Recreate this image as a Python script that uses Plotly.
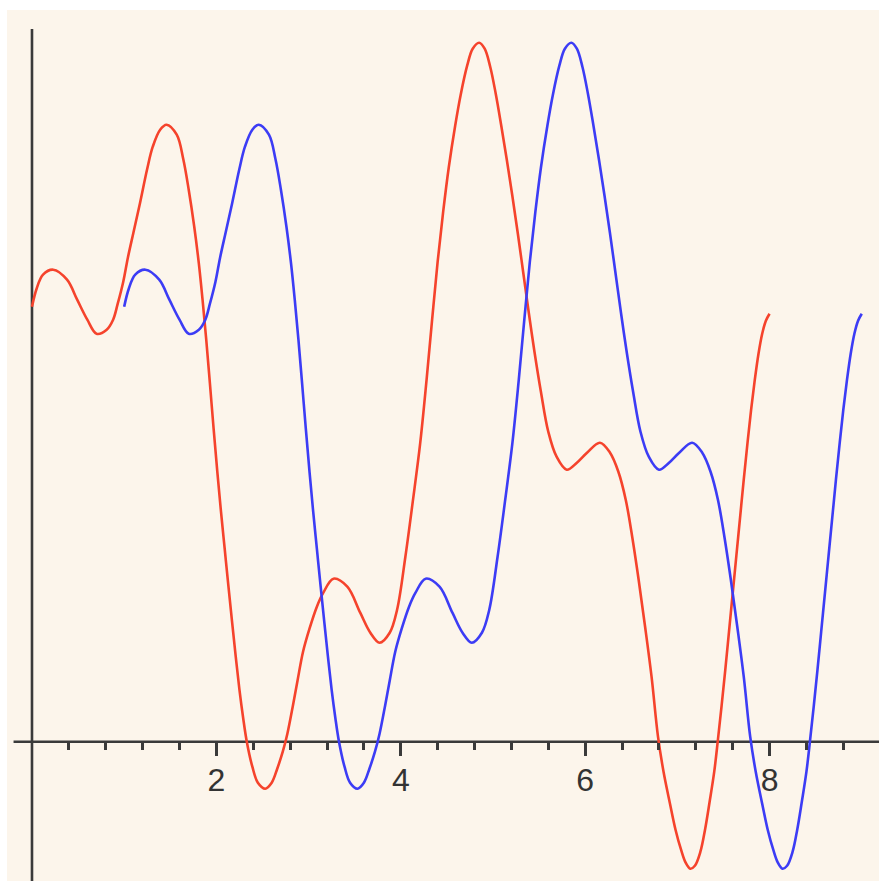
import plotly.graph_objects as go

# ---- data ----
red_x = [0.00, 0.05, 0.12, 0.23, 0.38, 0.49, 0.60, 0.70, 0.81, 0.88, 0.93, 0.99, 1.04, 1.10, 1.17,
         1.25, 1.31, 1.39, 1.46, 1.57, 1.64, 1.70, 1.76, 1.81, 1.85, 1.89, 1.93, 1.97, 2.01, 2.05,
         2.09, 2.13, 2.17, 2.21, 2.25, 2.29, 2.33, 2.39, 2.45, 2.53, 2.60, 2.66, 2.72, 2.77, 2.83,
         2.88, 2.94, 3.01, 3.09, 3.16, 3.27, 3.42, 3.56, 3.67, 3.77, 3.88, 3.96, 4.05, 4.13, 4.21,
         4.28, 4.34, 4.40, 4.46, 4.52, 4.59, 4.65, 4.72, 4.78, 4.85, 4.91, 4.97, 5.03, 5.09, 5.15,
         5.21, 5.27, 5.33, 5.39, 5.45, 5.52, 5.60, 5.69, 5.80, 5.91, 6.02, 6.16, 6.27, 6.36, 6.44, 6.51,
         6.58, 6.65, 6.72, 6.79, 6.85, 6.92, 6.98, 7.04, 7.09, 7.14, 7.19, 7.25, 7.30, 7.35, 7.40,
         7.44, 7.48, 7.52, 7.56, 7.60, 7.64, 7.68, 7.72, 7.76, 7.80, 7.84, 7.88, 7.92, 7.96, 8.00]
red_y = [4.35, 4.53, 4.67, 4.72, 4.62, 4.42, 4.22, 4.08, 4.12, 4.22, 4.38, 4.60, 4.84, 5.09, 5.38,
         5.73, 5.95, 6.12, 6.17, 6.07, 5.83, 5.52, 5.15, 4.78, 4.42, 4.02, 3.58, 3.13, 2.70, 2.30,
         1.93, 1.56, 1.20, 0.85, 0.52, 0.24, 0.00, -0.25, -0.41, -0.47, -0.41, -0.27, -0.10, 0.08, 0.36,
         0.61, 0.90, 1.13, 1.35, 1.49, 1.63, 1.55, 1.29, 1.09, 0.99, 1.09, 1.32, 1.85, 2.40, 2.98,
         3.62, 4.22, 4.80, 5.30, 5.74, 6.16, 6.47, 6.76, 6.93, 6.99, 6.93, 6.75, 6.48, 6.16, 5.82,
         5.46, 5.08, 4.68, 4.28, 3.90, 3.50, 3.10, 2.85, 2.72, 2.79, 2.89, 2.99, 2.89, 2.70, 2.42, 2.05,
         1.62, 1.15, 0.65, 0.05, -0.30, -0.62, -0.88, -1.08, -1.21, -1.27, -1.24, -1.10, -0.88, -0.60, -0.30,
         0.02, 0.36, 0.72, 1.10, 1.48, 1.86, 2.24, 2.62, 2.98, 3.32, 3.62, 3.88, 4.08, 4.21, 4.28]

blue_x = [1.00, 1.05, 1.12, 1.23, 1.38, 1.49, 1.60, 1.70, 1.81, 1.88, 1.93, 1.99, 2.04, 2.10, 2.17,
          2.25, 2.31, 2.39, 2.46, 2.57, 2.64, 2.70, 2.76, 2.81, 2.85, 2.89, 2.93, 2.97, 3.01, 3.05,
          3.09, 3.13, 3.17, 3.21, 3.25, 3.29, 3.33, 3.39, 3.45, 3.53, 3.60, 3.66, 3.72, 3.77, 3.83,
          3.88, 3.94, 4.01, 4.09, 4.16, 4.27, 4.42, 4.56, 4.67, 4.77, 4.88, 4.96, 5.05, 5.13, 5.21,
          5.28, 5.34, 5.40, 5.46, 5.52, 5.59, 5.65, 5.72, 5.78, 5.85, 5.91, 5.97, 6.03, 6.09, 6.15,
          6.21, 6.27, 6.33, 6.39, 6.45, 6.52, 6.60, 6.69, 6.80, 6.91, 7.02, 7.16, 7.27, 7.36, 7.44, 7.51,
          7.58, 7.65, 7.72, 7.79, 7.85, 7.92, 7.98, 8.04, 8.09, 8.14, 8.19, 8.25, 8.30, 8.35, 8.40,
          8.44, 8.48, 8.52, 8.56, 8.60, 8.64, 8.68, 8.72, 8.76, 8.80, 8.84, 8.88, 8.92, 8.96, 9.00]
blue_y = [4.35, 4.53, 4.67, 4.72, 4.62, 4.42, 4.22, 4.08, 4.12, 4.22, 4.38, 4.60, 4.84, 5.09, 5.38,
          5.73, 5.95, 6.12, 6.17, 6.07, 5.83, 5.52, 5.15, 4.78, 4.42, 4.02, 3.58, 3.13, 2.70, 2.30,
          1.93, 1.56, 1.20, 0.85, 0.52, 0.24, 0.00, -0.25, -0.41, -0.47, -0.41, -0.27, -0.10, 0.08, 0.36,
          0.61, 0.90, 1.13, 1.35, 1.49, 1.63, 1.55, 1.29, 1.09, 0.99, 1.09, 1.32, 1.85, 2.40, 2.98,
          3.62, 4.22, 4.80, 5.30, 5.74, 6.16, 6.47, 6.76, 6.93, 6.99, 6.93, 6.75, 6.48, 6.16, 5.82,
          5.46, 5.08, 4.68, 4.28, 3.90, 3.50, 3.10, 2.85, 2.72, 2.79, 2.89, 2.99, 2.89, 2.70, 2.42, 2.05,
          1.62, 1.15, 0.65, 0.05, -0.30, -0.62, -0.88, -1.08, -1.21, -1.27, -1.24, -1.10, -0.88, -0.60, -0.30,
          0.02, 0.36, 0.72, 1.10, 1.48, 1.86, 2.24, 2.62, 2.98, 3.32, 3.62, 3.88, 4.08, 4.21, 4.28]

major_ticks = [2, 4, 6, 8]
major_labels = ["2", "4", "6", "8"]
minor_ticks = [0.4, 0.8, 1.2, 1.6, 2.4, 2.8, 3.2, 3.6, 4.4, 4.8, 5.2, 5.6,
               6.4, 6.8, 7.2, 7.6, 8.4, 8.8]

assert len(red_x) == len(red_y) and len(blue_x) == len(blue_y)

# ---- layout constants ----
X_RANGE = [-0.271, 9.187]
Y_RANGE = [-1.393, 7.317]
Y_AXIS_TOP = 7.127
X_AXIS_LEFT = -0.2
AXIS_COLOR = "#3a3a3a"
BG = "#fcf5eb"
RED = "#f5432c"
BLUE = "#3c3cf5"

fig = go.Figure()
fig.add_trace(go.Scatter(x=red_x, y=red_y, mode="lines",
                         line=dict(color=RED, width=2.6, shape="spline", smoothing=1.0),
                         hoverinfo="skip", showlegend=False))
fig.add_trace(go.Scatter(x=blue_x, y=blue_y, mode="lines",
                         line=dict(color=BLUE, width=2.6, shape="spline", smoothing=1.0),
                         hoverinfo="skip", showlegend=False))

# axis lines through the origin
fig.add_shape(type="line", xref="x", yref="y", x0=X_AXIS_LEFT, x1=X_RANGE[1], y0=0, y1=0,
              line=dict(color=AXIS_COLOR, width=2.6), layer="below")
fig.add_shape(type="line", xref="x", yref="y", x0=0, x1=0, y0=Y_RANGE[0], y1=Y_AXIS_TOP,
              line=dict(color=AXIS_COLOR, width=2.6), layer="below")

xpos = (0 - Y_RANGE[0]) / (Y_RANGE[1] - Y_RANGE[0])

fig.update_layout(
    width=879, height=881,
    margin=dict(l=7, r=0, t=10, b=0),
    paper_bgcolor="white",
    plot_bgcolor=BG,
    xaxis=dict(range=X_RANGE, anchor="free", position=xpos, showline=False, showgrid=False,
               zeroline=False, tickmode="array", tickvals=major_ticks, ticktext=major_labels,
               ticks="outside", ticklen=13, tickwidth=2.6, tickcolor=AXIS_COLOR,
               tickfont=dict(family="Liberation Sans", size=32, color="#333333"),
               ticklabelstandoff=-3,
               minor=dict(tickmode="array", tickvals=minor_ticks, ticks="outside", ticklen=7,
                          tickwidth=2.6, tickcolor=AXIS_COLOR, showgrid=False)),
    yaxis=dict(range=Y_RANGE, visible=False, showgrid=False, zeroline=False),
)

fig.write_html("out.html",
               config={"displayModeBar": False},
               post_script="document.body.style.margin='0px';document.body.style.overflow='hidden';")
